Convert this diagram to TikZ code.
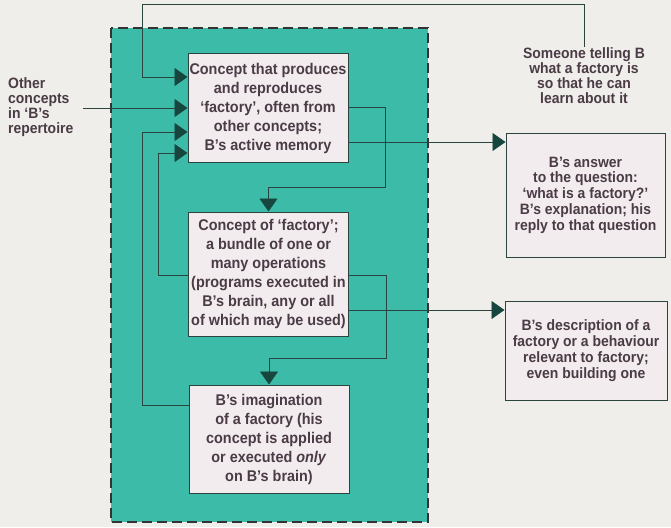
\documentclass[tikz,border=0pt]{standalone}
\usepackage{fontspec}
\setmainfont{Liberation Sans}[FakeStretch=0.93]
\usetikzlibrary{arrows.meta}
\definecolor{bgc}{HTML}{EFEEEB}
\definecolor{teal}{HTML}{3CBBA8}
\definecolor{boxc}{HTML}{F2ECEF}
\definecolor{txt}{HTML}{4A3B45}
\definecolor{linec}{HTML}{2C4440}
\definecolor{headc}{HTML}{17463F}
\begin{document}
\begin{tikzpicture}[x=1pt,y=-1pt,
  every node/.style={font=\bfseries\fontsize{15.5}{19}\selectfont,text=txt,align=center,inner sep=0pt},
  tbox/.style={draw=linec,line width=1pt,fill=boxc,minimum width=160pt},
  wbox/.style={draw=linec,line width=1pt,fill=boxc,font=\bfseries\fontsize{15}{15.8}\selectfont},
  conn/.style={draw=linec,line width=0.9pt},
  arr/.style={conn,-{Triangle[width=18pt,length=13pt,color=headc]}}]
\useasboundingbox (0,0) rectangle (671,527);
\fill[bgc] (0,0) rectangle (671,527);
\draw[fill=teal,draw=black!80,line width=2pt,dash pattern=on 10pt off 5pt] (111,28) rectangle (428,522);
% boxes
\node[tbox,minimum height=108pt] (b1) at (268,108) {Concept that produces\\and reproduces\\‘factory’, often from\\other concepts;\\B’s active memory};
\node[tbox,minimum height=124pt] (b2) at (268.5,274) {Concept of ‘factory’;\\a bundle of one or\\many operations\\(programs executed in\\B’s brain, any or all\\of which may be used)};
\node[tbox,minimum height=108pt] (b3) at (269,439) {B’s imagination\\of a factory (his\\concept is applied\\or executed \textit{only}\\on B’s brain)};
\node[wbox,minimum width=159pt,minimum height=124pt] (ans) at (585.5,195) {B’s answer\\to the question:\\‘what is a factory?’\\B’s explanation; his\\reply to that question};
\node[wbox,minimum width=162pt,minimum height=99pt] (desc) at (586,350.5) {B’s description of a\\factory or a behaviour\\relevant to factory;\\even building one};
\node[font=\bfseries\fontsize{15}{15}\selectfont,anchor=north] (sm) at (584,47) {Someone telling B\\what a factory is\\so that he can\\learn about it};
\node[font=\bfseries\fontsize{15}{15}\selectfont,align=left,anchor=west] (oth) at (8,107) {Other\\concepts\\in ‘B’s\\repertoire};
% connectors
\coordinate (othend) at (83,108);
\draw[arr] (sm.north) ++(0,-20) |- (142,4) |- (b1.west |- 0,77);
\draw[conn] (sm.north) -- ++(0,-20);
\draw[arr] (othend) -- (b1.west |- 0,108);
\draw[arr] (b3.west |- 0,405) -| (142,132) -- (b1.west |- 0,132);
\draw[arr] (b2.west |- 0,275) -| (158,153) -- (b1.west |- 0,153);
\draw[arr] (b1.east |- 0,107) -| (385,187) -| (b2.north);
\draw[arr] (b1.east |- 0,142) -- (ans.west |- 0,142);
\draw[arr] (b2.east |- 0,275) -| (386,358) -| (b3.north);
\draw[arr] (b2.east |- 0,310) -- (desc.west |- 0,310);
\end{tikzpicture}
\end{document}
